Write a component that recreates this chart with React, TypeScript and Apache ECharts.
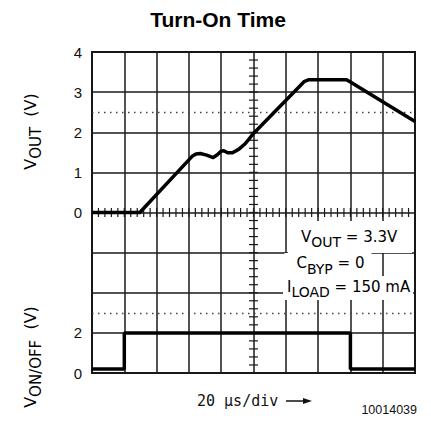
import React, { useEffect, useRef } from "react";
import * as echarts from "echarts";

// V_OUT trace: time (µs) and voltage (V)
const voutTimeUs = [0, 29.6, 62, 64.4, 67, 71, 75, 77.6, 80, 81.6, 84, 87, 91, 95, 100, 131.6, 134.4, 157.6, 160, 200];
const voutV = [0, 0, 1.4, 1.46, 1.47, 1.43, 1.37, 1.44, 1.53, 1.54, 1.49, 1.49, 1.58, 1.72, 1.97, 3.27, 3.31, 3.31, 3.25, 2.27];

// V_ON/OFF trace
const vonTimeUs = [0, 20, 20, 160, 160, 200];
const vonV = [0.2, 0.2, 2, 2, 0.2, 0.2];

const voutTickLabels = [0, 1, 2, 3, 4];
const vonTickLabels = [0, 2];
const voutRefLevel = 2.5;
const vonRefLevel = 3;

// graticule: 10 horizontal divisions of 20 µs, 8 vertical divisions of 1 V (V_OUT scale), 5 minor marks per division
const timePerDiv = 20;
const timeDivs = 10;
const voltPerDiv = 1;
const voltDivsHalf = 4;
const minorPerDiv = 5;

const GRID_COLOR = "#1a1a1a";
const SANS = "'Liberation Sans', Arial, sans-serif";
const DJ = "'DejaVu Sans', sans-serif";

export default function App() {
  const ref = useRef<HTMLDivElement>(null);

  useEffect(() => {
    if (!ref.current) return;
    const chart = echarts.init(ref.current, undefined, { renderer: "svg" });
    const gl = { color: GRID_COLOR, width: 1.5 };

    // minor graticule marks along the centre lines (orientation 0 = vertical mark, 1 = horizontal mark)
    const centreTime = (timePerDiv * timeDivs) / 2;
    const graticuleMarks: number[][] = [];
    for (let i = 0; i <= timeDivs * minorPerDiv; i++) {
      graticuleMarks.push([(i * timePerDiv) / minorPerDiv, 0, 0]);
    }
    for (let i = -voltDivsHalf * minorPerDiv; i <= voltDivsHalf * minorPerDiv; i++) {
      graticuleMarks.push([centreTime, (i * voltPerDiv) / minorPerDiv, 1]);
    }

    const labelStyle = { fontSize: 15, color: "#111", fontFamily: SANS, margin: 10 };

    const mainRich = (fs: number) => ({
      m: { fontSize: fs, fontFamily: DJ, color: "#111", verticalAlign: "top", lineHeight: fs },
      s: { fontSize: fs - 1, fontFamily: DJ, color: "#111", verticalAlign: "bottom", lineHeight: fs + 5 },
    });

    const option: any = {
      animation: false,
      backgroundColor: "#fff",
      grid: {
        left: 92,
        top: 52,
        width: 323,
        height: 321,
        show: true,
        borderColor: "#111",
        borderWidth: 2,
        outerBoundsMode: "none",
      },
      xAxis: [
        {
          type: "value",
          min: 0,
          max: timePerDiv * timeDivs,
          interval: timePerDiv,
          axisLine: { show: false, onZero: false },
          axisTick: { show: false },
          axisLabel: { show: false },
          splitLine: { show: true, lineStyle: gl },
        },
      ],
      yAxis: [
        {
          type: "value",
          min: -voltDivsHalf,
          max: voltDivsHalf,
          interval: voltPerDiv,
          position: "left",
          axisLine: { show: false, onZero: false },
          axisTick: { show: false },
          axisLabel: {
            ...labelStyle,
            formatter: (v: number) => (voutTickLabels.includes(v) ? String(v) : ""),
          },
          splitLine: { show: true, lineStyle: gl },
        },
        {
          type: "value",
          min: 0,
          max: 16,
          interval: 2,
          position: "left",
          axisLine: { show: false, onZero: false },
          axisTick: { show: false },
          axisLabel: {
            ...labelStyle,
            formatter: (v: number) => (vonTickLabels.includes(v) ? String(v) : ""),
          },
          splitLine: { show: false },
        },
      ],
      series: [
        {
          type: "custom",
          xAxisIndex: 0,
          yAxisIndex: 0,
          silent: true,
          clip: false,
          z: 3,
          data: graticuleMarks,
          encode: { x: 0, y: 1 },
          renderItem: (_p: any, api: any) => {
            const pt = api.coord([api.value(0), api.value(1)]);
            const vertical = api.value(2) === 0;
            return {
              type: "line",
              shape: vertical
                ? { x1: pt[0], y1: pt[1] - 4.5, x2: pt[0], y2: pt[1] + 4.5 }
                : { x1: pt[0] - 4.5, y1: pt[1], x2: pt[0] + 4.5, y2: pt[1] },
              style: { stroke: GRID_COLOR, lineWidth: 1.2 },
            };
          },
        },
        {
          type: "line",
          xAxisIndex: 0,
          yAxisIndex: 0,
          data: voutTimeUs.map((t, i) => [t, voutV[i]]),
          showSymbol: false,
          lineStyle: { color: "#000", width: 3.5, join: "round" },
          z: 10,
          markLine: {
            silent: true,
            symbol: "none",
            label: { show: false },
            lineStyle: { color: "#444", width: 1.3, type: [1.5, 4.5] },
            data: [{ yAxis: voutRefLevel }],
          },
        },
        {
          type: "line",
          xAxisIndex: 0,
          yAxisIndex: 1,
          data: vonTimeUs.map((t, i) => [t, vonV[i]]),
          showSymbol: false,
          lineStyle: { color: "#000", width: 3.5 },
          z: 10,
          markLine: {
            silent: true,
            symbol: "none",
            label: { show: false },
            lineStyle: { color: "#444", width: 1.3, type: [1.5, 4.5] },
            data: [{ yAxis: vonRefLevel }],
          },
        },
      ],
      graphic: [
        {
          type: "text",
          x: 218,
          y: 19,
          style: {
            text: "Turn-On Time",
            fill: "#000",
            fontSize: 21,
            fontWeight: "bold",
            fontFamily: SANS,
            align: "center",
            verticalAlign: "middle",
            textAlign: "center",
            textVerticalAlign: "middle",
          },
        },
        // white boxes behind the annotation
        { type: "rect", z: 50, shape: { x: 288, y: 221, width: 124, height: 32 }, style: { fill: "#fff" } },
        { type: "rect", z: 50, shape: { x: 284.5, y: 253, width: 87, height: 23 }, style: { fill: "#fff" } },
        { type: "rect", z: 50, shape: { x: 283, y: 276, width: 130, height: 24 }, style: { fill: "#fff" } },
        {
          type: "text",
          z: 51,
          x: 301,
          y: 229,
          style: {
            text: "{m|V}{s|OUT}{m| = 3.3V}",
            rich: mainRich(15),
            verticalAlign: "top",
            textVerticalAlign: "top",
          },
        },
        {
          type: "text",
          z: 51,
          x: 296.5,
          y: 255.5,
          style: {
            text: "{m|C}{s|BYP}{m| = 0}",
            rich: mainRich(15),
            verticalAlign: "top",
            textVerticalAlign: "top",
          },
        },
        {
          type: "text",
          z: 51,
          x: 287,
          y: 279,
          style: {
            text: "{m|I}{s|LOAD}{m| = 150 mA}",
            rich: mainRich(15),
            verticalAlign: "top",
            textVerticalAlign: "top",
          },
        },
        // axis titles
        {
          type: "text",
          x: 33,
          y: 131.5,
          rotation: Math.PI / 2,
          style: {
            text: "{m|V}{s|OUT}{m|  (V)}",
            rich: mainRich(16),
            align: "center",
            textAlign: "center",
            verticalAlign: "middle",
            textVerticalAlign: "middle",
          },
        },
        {
          type: "text",
          x: 33,
          y: 357,
          rotation: Math.PI / 2,
          style: {
            text: "{m|V}{s|ON/OFF}{m|  (V)}",
            rich: mainRich(16),
            align: "center",
            textAlign: "center",
            verticalAlign: "middle",
            textVerticalAlign: "middle",
          },
        },
        // x-axis caption
        {
          type: "text",
          x: 197,
          y: 401,
          style: {
            text: "20 µs/div",
            fill: "#111",
            fontSize: 15,
            fontFamily: "'DejaVu Sans Mono', monospace",
            align: "left",
            textAlign: "left",
            verticalAlign: "middle",
            textVerticalAlign: "middle",
          },
        },
        {
          type: "line",
          shape: { x1: 286, y1: 401, x2: 305, y2: 401 },
          style: { stroke: "#111", lineWidth: 1.5 },
        },
        {
          type: "polygon",
          shape: { points: [[312, 401], [303, 398], [303, 404]] },
          style: { fill: "#111" },
        },
        {
          type: "text",
          x: 417,
          y: 410,
          style: {
            text: "10014039",
            fill: "#111",
            fontSize: 12.5,
            fontFamily: SANS,
            align: "right",
            textAlign: "right",
            verticalAlign: "middle",
            textVerticalAlign: "middle",
          },
        },
      ],
    };

    chart.setOption(option);
    return () => chart.dispose();
  }, []);

  return (
    <div
      ref={ref}
      style={{ position: "fixed", left: 0, top: 0, width: 431, height: 438, background: "#fff" }}
    />
  );
}
